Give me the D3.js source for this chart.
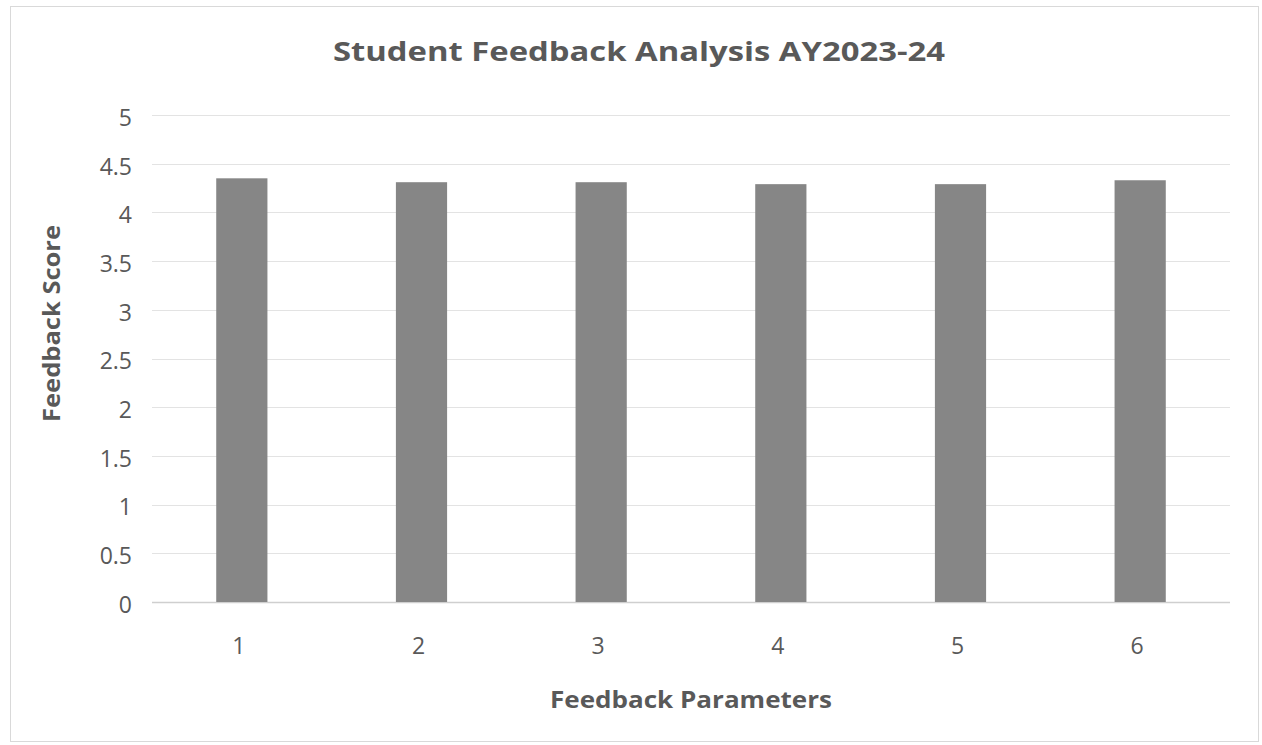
<!DOCTYPE html>
<html>
<head>
<meta charset="utf-8">
<script src="https://cdn.jsdelivr.net/npm/d3@7"></script>
<style>
  body { margin: 0; background: #fff; }
  text { font-family: "Open Sans", sans-serif; fill: #595959; }
</style>
</head>
<body>
<svg width="1262" height="745"></svg>
<script>
var categories = ["1", "2", "3", "4", "5", "6"];
var scores = [4.35, 4.31, 4.31, 4.29, 4.29, 4.33];
var yTicks = [0, 0.5, 1, 1.5, 2, 2.5, 3, 3.5, 4, 4.5, 5];

var svg = d3.select("svg");

// chart border
svg.append("rect")
  .attr("x", 10.5).attr("y", 6.5)
  .attr("width", 1248).attr("height", 735)
  .attr("fill", "#fff")
  .attr("stroke", "#d9d9d9");

var x = d3.scaleBand()
  .domain(categories)
  .range([152, 1230])
  .paddingInner(0.715)
  .paddingOuter(0.3575);

var y = d3.scaleLinear()
  .domain([0, 5])
  .range([602, 115]);

// gridlines
svg.append("g")
  .selectAll("line")
  .data(yTicks)
  .enter()
  .append("line")
  .attr("x1", 152).attr("x2", 1230)
  .attr("y1", function (d) { return Math.round(y(d)) + 0.5; })
  .attr("y2", function (d) { return Math.round(y(d)) + 0.5; })
  .attr("stroke", function (d) { return d === 0 ? "#cfcfcf" : "#e3e3e3"; })
  .attr("stroke-width", function (d) { return d === 0 ? 1.5 : 1; });

// bars
svg.append("g")
  .selectAll("rect")
  .data(scores)
  .enter()
  .append("rect")
  .attr("x", function (d, i) { return x(categories[i]); })
  .attr("width", x.bandwidth())
  .attr("y", function (d) { return y(d); })
  .attr("height", function (d) { return y(0) - y(d); })
  .attr("fill", "#868686");

// y axis labels
var yAxis = d3.axisLeft(y)
  .tickValues(yTicks)
  .tickSize(0)
  .tickPadding(0)
  .tickFormat(function (d) { return String(d); });

var gy = svg.append("g")
  .attr("transform", "translate(132,3)")
  .call(yAxis);
gy.select(".domain").remove();
gy.selectAll("text")
  .style("font-family", "'Open Sans', sans-serif")
  .style("font-size", "23px")
  .attr("fill", "#595959");

// x axis labels
var xAxis = d3.axisBottom(x).tickSize(0).tickPadding(0);
var gx = svg.append("g")
  .attr("transform", "translate(-3,638)")
  .call(xAxis);
gx.select(".domain").remove();
gx.selectAll("text")
  .style("font-family", "'Open Sans', sans-serif")
  .style("font-size", "23px")
  .attr("fill", "#595959");

// title
svg.append("text")
  .text("Student Feedback Analysis AY2023-24")
  .attr("x", 333)
  .attr("y", 61)
  .attr("textLength", 612)
  .attr("lengthAdjust", "spacingAndGlyphs")
  .style("font-size", "27px")
  .style("font-weight", "bold");

// axis titles
svg.append("text")
  .text("Feedback Parameters")
  .attr("x", 550)
  .attr("y", 708)
  .attr("textLength", 282)
  .attr("lengthAdjust", "spacingAndGlyphs")
  .style("font-size", "23px")
  .style("font-weight", "bold");

svg.append("text")
  .text("Feedback Score")
  .attr("transform", "translate(60,422) rotate(-90)")
  .attr("textLength", 197)
  .attr("lengthAdjust", "spacingAndGlyphs")
  .style("font-size", "23px")
  .style("font-weight", "bold");
</script>
</body>
</html>
